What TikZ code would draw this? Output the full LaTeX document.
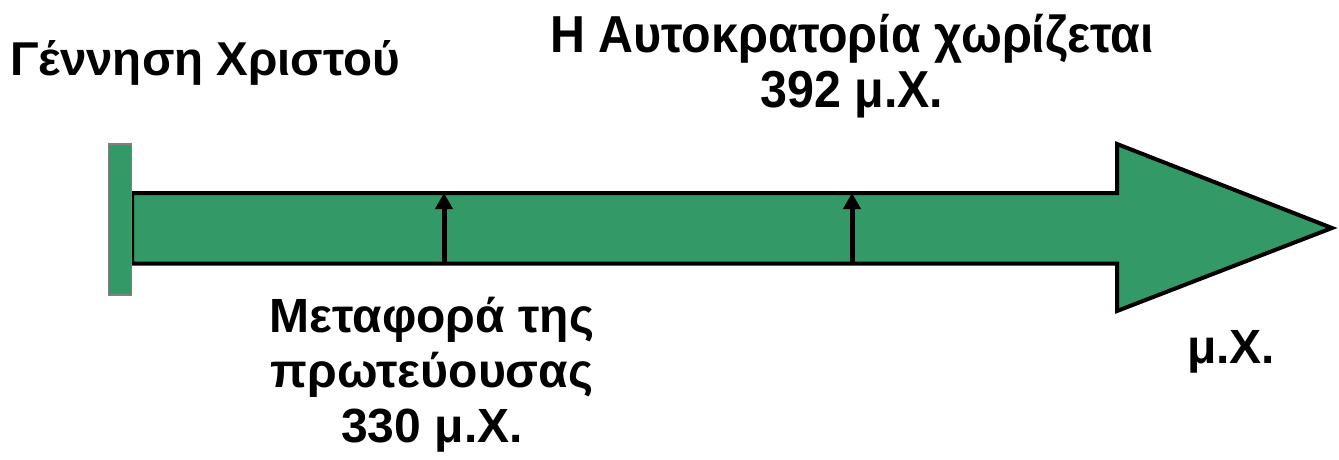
\documentclass[tikz,border=0pt]{standalone}
\usepackage{fontspec}
\setmainfont{Liberation Sans}
\newfontfamily\narrowfont[FakeStretch=0.93]{Liberation Sans}
\usetikzlibrary{arrows.meta}
\definecolor{tlgreen}{RGB}{51,153,102}
\begin{document}
\begin{tikzpicture}[x=1pt,y=-1pt,
  lbl/.style={inner sep=0pt, font=\bfseries\fontsize{48}{55}\selectfont, align=center},
  narrowlbl/.style={inner sep=0pt, font=\narrowfont\bfseries\fontsize{52}{55}\selectfont, align=center},
  tick/.style={line width=5pt, -{Triangle[width=17pt,length=16pt]}},
  timeline/.style={line width=4pt, fill=tlgreen, line join=miter},
]
\useasboundingbox (0,0) rectangle (1339,460);
% main arrow
\coordinate (bodyTL) at (132,193);
\coordinate (headT) at (1117,193);
\coordinate (headTT) at (1117,144);
\coordinate (tip) at (1332,228);
\coordinate (headBB) at (1117,311);
\coordinate (headB) at (1117,263.5);
\coordinate (bodyBL) at (132,263.5);
\draw[timeline] (bodyTL) -- (headT) -- (headTT) -- (tip) -- (headBB) -- (headB) -- (bodyBL) -- cycle;
% start bar
\node[draw=gray, line width=1.5pt, fill=tlgreen, minimum width=23pt, minimum height=151pt, inner sep=0pt] (start) at (120,219.5) {};
% ticks
\coordinate (a1) at (444,263.5);
\coordinate (b1) at (444,193);
\coordinate (a2) at (852,263.5);
\coordinate (b2) at (852,193);
\draw[tick] (a1) -- (b1);
\draw[tick] (a2) -- (b2);
% labels
\node[lbl, font=\bfseries\fontsize{47.5}{55}\selectfont, anchor=base west] (birth) at (10,75) {Γέννηση Χριστού};
\node[narrowlbl, anchor=base] (split) at (852,107) {Η Αυτοκρατορία χωρίζεται\\392 μ.Χ.};
\node[lbl, anchor=base] (move) at (432,442) {Μεταφορά της\\πρωτεύουσας\\330 μ.Χ.};
\node[lbl, anchor=base west] (ad) at (1187,363) {μ.Χ.};
\end{tikzpicture}
\end{document}
